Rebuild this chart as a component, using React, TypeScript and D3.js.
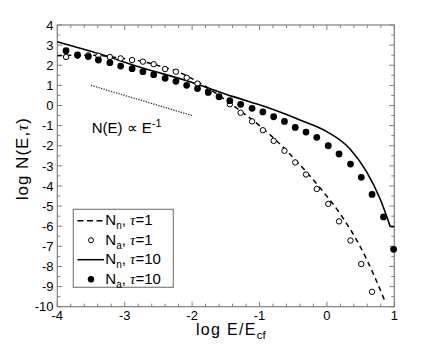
import React from 'react';
import * as d3 from 'd3';

// grid of log E/E_cf where the symbols sit
const gridX = [
  -3.87, -3.7, -3.54, -3.39, -3.22, -3.06, -2.89, -2.73, -2.57, -2.4, -2.24,
  -2.08, -1.92, -1.76, -1.6, -1.44, -1.28, -1.11, -0.95, -0.79, -0.63, -0.47,
  -0.31, -0.15, 0.02, 0.18, 0.35, 0.51, 0.67, 0.84, 0.99,
];

// N_a, tau=10 (filled)
const filledY = [
  2.72, 2.51, 2.43, 2.26, 2.13, 1.96, 1.83, 1.68, 1.53, 1.35, 1.2, 1.0, 0.84,
  0.65, 0.44, 0.24, 0.06, -0.14, -0.32, -0.56, -0.79, -1.09, -1.32, -1.58,
  -2.0, -2.41, -2.91, -3.57, -4.42, -5.54, -7.15,
];

// N_a, tau=1 (open)
const openY = [
  2.41, 2.48, 2.49, 2.47, 2.41, 2.34, 2.26, 2.18, 2.05, 1.81, 1.68, 1.38, 1.09,
  0.72, 0.42, 0.06, -0.36, -0.79, -1.23, -1.76, -2.25, -2.83, -3.43, -4.15,
  -4.89, -5.76, -6.71, -7.88, -9.26,
];

// N_n, tau=1 (dashed)
const dashX = [-4.0, -3.7, -3.4, -3.1, -2.8, -2.5, -2.2, -1.9, -1.6, -1.3, -1.0, -0.7, -0.4, -0.1, 0.2, 0.5, 0.7, 0.87];
const dashY = [2.47, 2.5, 2.49, 2.37, 2.23, 1.98, 1.66, 1.15, 0.5, -0.23, -1.0, -1.9, -2.95, -4.1, -5.4, -7.05, -8.45, -9.8];

// N_n, tau=10 (solid)
const solidX = [-4.0, -3.37, -2.72, -2.08, -1.39, -0.89, -0.4, 0.0, 0.34, 0.59, 0.79, 0.94];
const solidY = [3.17, 2.56, 1.85, 1.23, 0.44, -0.09, -0.72, -1.3, -2.15, -3.3, -4.65, -6.02];
const solidTailX = [0.94, 1.0];
const solidTailY = [-6.02, -6.02];

// E^-1 guide
const guideX = [-3.5, -2.0];
const guideY = [1.0, -0.5];

const xTicks = [-4, -3, -2, -1, 0, 1];
const yTicks = [4, 3, 2, 1, 0, -1, -2, -3, -4, -5, -6, -7, -8, -9, -10];

const W = 436;
const H = 346;
const left = 57.3;
const right = 394.3;
const top = 25;
const bottom = 306.7;
const font = 'Liberation Sans, Arial, Helvetica, sans-serif';
const frame = '#808080';

export default function App() {
  const x = d3.scaleLinear().domain([-4, 1]).range([left, right]);
  const y = d3.scaleLinear().domain([-10, 4]).range([bottom, top]);

  const line = d3
    .line<[number, number]>()
    .x((d) => x(d[0]))
    .y((d) => y(d[1]));
  const curve = d3
    .line<[number, number]>()
    .x((d) => x(d[0]))
    .y((d) => y(d[1]))
    .curve(d3.curveMonotoneX);

  const zip = (xs: number[], ys: number[]) =>
    ys.map((v, i) => [xs[i], v] as [number, number]);

  const xMinor = d3.range(-4, 1.0001, 0.2);
  const yMinor = d3.range(-10, 4.0001, 0.5);

  const legendRows = [
    { label: 'n', tau: '1', kind: 'dash' },
    { label: 'a', tau: '1', kind: 'open' },
    { label: 'n', tau: '10', kind: 'solid' },
    { label: 'a', tau: '10', kind: 'filled' },
  ];

  return (
    <svg
      width={W}
      height={H}
      style={{ position: 'absolute', left: 0, top: 0, background: '#fff' }}
      fontFamily={font}
    >
      {/* ticks */}
      <g stroke={frame} strokeWidth={1}>
        {xMinor.map((t, i) => {
          const major = Math.abs(t - Math.round(t)) < 1e-6;
          const len = major ? 5 : 3;
          return (
            <g key={'xt' + i}>
              <line x1={x(t)} x2={x(t)} y1={bottom} y2={bottom - len} />
              <line x1={x(t)} x2={x(t)} y1={top} y2={top + len} />
            </g>
          );
        })}
        {yMinor.map((t, i) => {
          const major = Math.abs(t - Math.round(t)) < 1e-6;
          const len = major ? 5 : 3;
          return (
            <g key={'yt' + i}>
              <line x1={left} x2={left + len} y1={y(t)} y2={y(t)} />
              <line x1={right} x2={right - len} y1={y(t)} y2={y(t)} />
            </g>
          );
        })}
      </g>
      <rect
        x={left}
        y={top}
        width={right - left}
        height={bottom - top}
        fill="none"
        stroke={frame}
        strokeWidth={1.2}
      />

      {/* tick labels */}
      <g fontSize={13} fill="#000">
        {xTicks.map((t) => (
          <text key={'xl' + t} x={x(t)} y={320.3} textAnchor="middle">
            {t}
          </text>
        ))}
        {yTicks.map((t) => (
          <text key={'yl' + t} x={53.5} y={y(t)} dy="0.36em" textAnchor="end">
            {t}
          </text>
        ))}
      </g>

      {/* axis labels */}
      <text x={196} y={335} fontSize={16} letterSpacing={1.3}>
        log E/E
        <tspan fontSize={11.5} dy={4} letterSpacing={0}>
          cf
        </tspan>
      </text>
      <text
        transform={`translate(28,158.7) rotate(-90)`}
        fontSize={17}
        letterSpacing={1}
        textAnchor="middle"
      >
        log N(E,
        <tspan fontFamily="Liberation Serif, Times, serif" fontStyle="italic">
          τ
        </tspan>
        )
      </text>

      {/* E^-1 guide */}
      <path
        d={line(zip(guideX, guideY)) || ''}
        fill="none"
        stroke="#333"
        strokeWidth={1.3}
        strokeDasharray="1.3,1.3"
      />
      <text x={91.7} y={133.3} fontSize={15}>
        N(E) ∝ E
        <tspan fontSize={11} dy={-6}>
          -1
        </tspan>
      </text>

      {/* model curves */}
      <path
        d={curve(zip(dashX, dashY)) || ''}
        fill="none"
        stroke="#000"
        strokeWidth={1.5}
        strokeDasharray="5,4"
      />
      <path
        d={curve(zip(solidX, solidY)) || ''}
        fill="none"
        stroke="#000"
        strokeWidth={1.6}
      />
      <path
        d={line(zip(solidTailX, solidTailY)) || ''}
        fill="none"
        stroke="#000"
        strokeWidth={1.6}
      />

      {/* symbols */}
      {openY.map((v, i) => (
        <circle
          key={'o' + i}
          cx={x(gridX[i])}
          cy={y(v)}
          r={2.7}
          fill="#fff"
          stroke="#000"
          strokeWidth={1}
        />
      ))}
      {filledY.map((v, i) => (
        <circle key={'f' + i} cx={x(gridX[i])} cy={y(v)} r={3.4} fill="#000" />
      ))}

      {/* legend */}
      <rect x={73.3} y={209.3} width={100} height={78} fill="#fff" stroke={frame} strokeWidth={1.2} />
      {legendRows.map((r, i) => {
        const base = 225 + i * 19.5;
        const mid = base - 4.3;
        return (
          <g key={'lg' + i}>
            {r.kind === 'dash' && (
              <line x1={77.5} x2={103} y1={mid} y2={mid} stroke="#000" strokeWidth={1.5} strokeDasharray="6,3.5" />
            )}
            {r.kind === 'solid' && (
              <line x1={77.5} x2={104} y1={mid} y2={mid} stroke="#000" strokeWidth={1.5} />
            )}
            {r.kind === 'open' && (
              <circle cx={91} cy={mid} r={2.5} fill="#fff" stroke="#000" strokeWidth={1} />
            )}
            {r.kind === 'filled' && <circle cx={91} cy={mid} r={3.2} fill="#000" />}
            <text x={105.3} y={base} fontSize={15}>
              N
              <tspan fontSize={10} dy={4}>
                {r.label}
              </tspan>
              <tspan dy={-4}>, </tspan>
              <tspan fontFamily="Liberation Serif, Times, serif" fontStyle="italic">
                τ
              </tspan>
              <tspan>={r.tau}</tspan>
            </text>
          </g>
        );
      })}
    </svg>
  );
}
